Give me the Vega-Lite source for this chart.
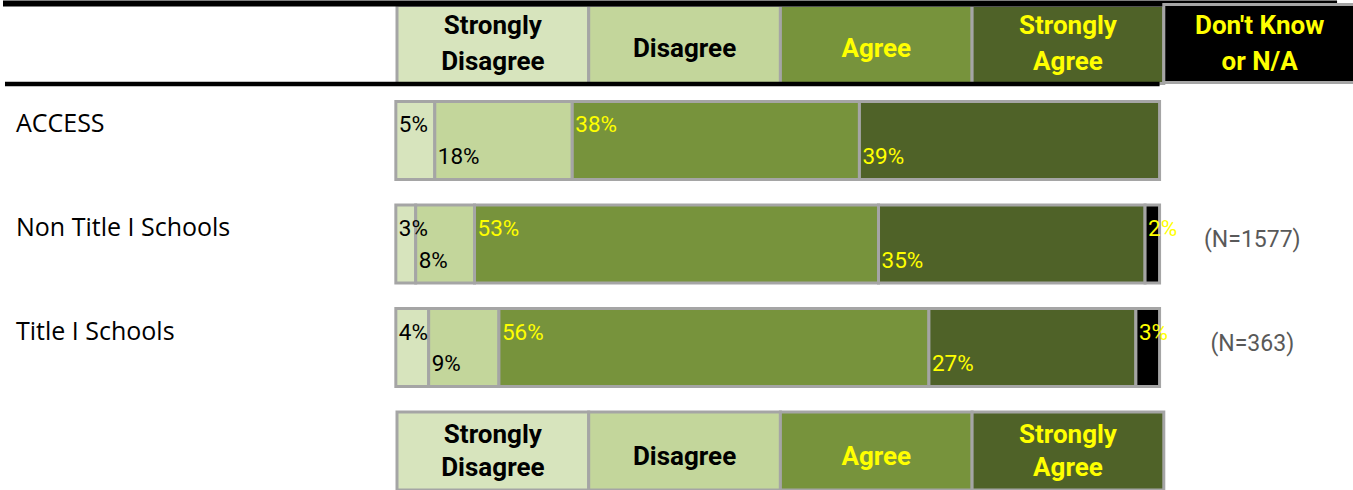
{
  "$schema": "https://vega.github.io/schema/vega-lite/v6.json",
  "width": 1353,
  "height": 490,
  "autosize": {"type": "fit", "contains": "padding"},
  "padding": 0,
  "background": "white",
  "config": {"view": {"stroke": null}},
  "datasets": {
    "bars": [
      {"row": "ACCESS", "cat": "Strongly Disagree", "k": 1, "value": 5.1, "label": "5%"},
      {"row": "ACCESS", "cat": "Disagree", "k": 2, "value": 18.0, "label": "18%"},
      {"row": "ACCESS", "cat": "Agree", "k": 3, "value": 37.6, "label": "38%"},
      {"row": "ACCESS", "cat": "Strongly Agree", "k": 4, "value": 39.3, "label": "39%"},
      {"row": "Non Title I Schools", "cat": "Strongly Disagree", "k": 1, "value": 2.6, "label": "3%"},
      {"row": "Non Title I Schools", "cat": "Disagree", "k": 2, "value": 7.7, "label": "8%"},
      {"row": "Non Title I Schools", "cat": "Agree", "k": 3, "value": 52.9, "label": "53%"},
      {"row": "Non Title I Schools", "cat": "Strongly Agree", "k": 4, "value": 34.9, "label": "35%"},
      {"row": "Non Title I Schools", "cat": "Don't Know or N/A", "k": 5, "value": 1.9, "label": "2%"},
      {"row": "Title I Schools", "cat": "Strongly Disagree", "k": 1, "value": 4.3, "label": "4%"},
      {"row": "Title I Schools", "cat": "Disagree", "k": 2, "value": 9.2, "label": "9%"},
      {"row": "Title I Schools", "cat": "Agree", "k": 3, "value": 56.3, "label": "56%"},
      {"row": "Title I Schools", "cat": "Strongly Agree", "k": 4, "value": 27.1, "label": "27%"},
      {"row": "Title I Schools", "cat": "Don't Know or N/A", "k": 5, "value": 3.1, "label": "3%"}
    ],
    "rows": [
      {"row": "ACCESS", "n": ""},
      {"row": "Non Title I Schools", "n": "(N=1577)"},
      {"row": "Title I Schools", "n": "(N=363)"}
    ],
    "cats": [
      {"cat": "Strongly Disagree", "head": "Strongly\nDisagree", "k": 1},
      {"cat": "Disagree", "head": "Disagree", "k": 2},
      {"cat": "Agree", "head": "Agree", "k": 3},
      {"cat": "Strongly Agree", "head": "Strongly\nAgree", "k": 4},
      {"cat": "Don't Know or N/A", "head": "Don't Know\nor N/A", "k": 5}
    ]
  },
  "layer": [
    {
      "data": {"name": "cats"},
      "transform": [{"filter": "datum.k < 5"}],
      "mark": {"type": "rect", "stroke": "#A5A5A5", "strokeWidth": 3, "yOffset": 7.5},
      "encoding": {
        "x": {"field": "cat", "type": "nominal", "axis": null, "scale": {"type": "band", "domain": ["Strongly Disagree", "Disagree", "Agree", "Strongly Agree", "Don't Know or N/A"], "range": [394, 1352.5], "paddingInner": 0, "paddingOuter": 0, "round": false}},
        "y": {"datum": "H", "type": "nominal", "axis": null, "scale": {"type": "band", "domain": ["H", "ACCESS", "Non Title I Schools", "Title I Schools", "F"], "range": [-2, 490], "paddingInner": 0.2464, "paddingOuter": 0, "round": false}},
        "color": {"field": "cat", "type": "nominal", "legend": null, "scale": {"domain": ["Strongly Disagree", "Disagree", "Agree", "Strongly Agree", "Don't Know or N/A"], "range": ["#D7E4BD", "#C3D69B", "#77933C", "#4F6228", "#000000"]}}
      }
    },
    {
      "data": {"values": [{}]},
      "layer": [
        {
          "mark": {"type": "rule", "color": "#000000", "strokeWidth": 6, "yOffset": -33.5},
          "encoding": {
            "x": {"datum": -51.436, "type": "quantitative", "axis": null, "scale": {"domain": [-51.436, 125.196], "nice": false, "zero": false}},
            "x2": {"datum": 123.24},
            "y": {"datum": "H", "type": "nominal", "axis": null, "scale": {"type": "band", "domain": ["H", "ACCESS", "Non Title I Schools", "Title I Schools", "F"], "range": [-2, 490], "paddingInner": 0.2464, "paddingOuter": 0, "round": false}}
          }
        },
        {
          "mark": {"type": "rule", "color": "#000000", "strokeWidth": 4.5, "yOffset": 47},
          "encoding": {
            "x": {"datum": -51.175, "type": "quantitative", "axis": null, "scale": {"domain": [-51.436, 125.196], "nice": false, "zero": false}},
            "x2": {"datum": 100},
            "y": {"datum": "H", "type": "nominal", "axis": null, "scale": {"type": "band", "domain": ["H", "ACCESS", "Non Title I Schools", "Title I Schools", "F"], "range": [-2, 490], "paddingInner": 0.2464, "paddingOuter": 0, "round": false}}
          }
        }
      ]
    },
    {
      "data": {"name": "cats"},
      "layer": [
        {
          "transform": [{"filter": "datum.k == 5"}],
          "mark": {"type": "rect", "stroke": "#A5A5A5", "strokeWidth": 3, "yOffset": 6.5},
          "encoding": {
            "x": {"field": "cat", "type": "nominal", "axis": null, "scale": {"type": "band", "domain": ["Strongly Disagree", "Disagree", "Agree", "Strongly Agree", "Don't Know or N/A"], "range": [394, 1352.5], "paddingInner": 0, "paddingOuter": 0, "round": false}},
            "y": {"datum": "H", "type": "nominal", "axis": null, "scale": {"type": "band", "domain": ["H", "ACCESS", "Non Title I Schools", "Title I Schools", "F"], "range": [-2, 490], "paddingInner": 0.2464, "paddingOuter": 0, "round": false}},
            "color": {"field": "cat", "type": "nominal", "legend": null, "scale": {"domain": ["Strongly Disagree", "Disagree", "Agree", "Strongly Agree", "Don't Know or N/A"], "range": ["#D7E4BD", "#C3D69B", "#77933C", "#4F6228", "#000000"]}}
          }
        },
        {
          "transform": [{"filter": "datum.k == 1 || datum.k >= 4"}],
          "mark": {"type": "text", "font": "Roboto", "fontSize": 26, "fontWeight": "bold", "lineBreak": "\n", "lineHeight": 36, "align": "center", "baseline": "middle", "dy": -11},
          "encoding": {
            "x": {"field": "cat", "type": "nominal", "axis": null, "scale": {"type": "band", "domain": ["Strongly Disagree", "Disagree", "Agree", "Strongly Agree", "Don't Know or N/A"], "range": [394, 1352.5], "paddingInner": 0, "paddingOuter": 0, "round": false}},
            "y": {"datum": "H", "type": "nominal", "axis": null, "scale": {"type": "band", "domain": ["H", "ACCESS", "Non Title I Schools", "Title I Schools", "F"], "range": [-2, 490], "paddingInner": 0.2464, "paddingOuter": 0, "round": false}},
            "text": {"field": "head"},
            "fill": {"field": "cat", "type": "nominal", "legend": null, "scale": {"domain": ["Strongly Disagree", "Disagree", "Agree", "Strongly Agree", "Don't Know or N/A"], "range": ["#000000", "#000000", "#FFFF00", "#FFFF00", "#FFFF00"]}}
          }
        },
        {
          "transform": [{"filter": "datum.k == 2 || datum.k == 3"}],
          "mark": {"type": "text", "font": "Roboto", "fontSize": 26, "fontWeight": "bold", "align": "center", "baseline": "middle", "dy": 12},
          "encoding": {
            "x": {"field": "cat", "type": "nominal", "axis": null, "scale": {"type": "band", "domain": ["Strongly Disagree", "Disagree", "Agree", "Strongly Agree", "Don't Know or N/A"], "range": [394, 1352.5], "paddingInner": 0, "paddingOuter": 0, "round": false}},
            "y": {"datum": "H", "type": "nominal", "axis": null, "scale": {"type": "band", "domain": ["H", "ACCESS", "Non Title I Schools", "Title I Schools", "F"], "range": [-2, 490], "paddingInner": 0.2464, "paddingOuter": 0, "round": false}},
            "text": {"field": "head"},
            "fill": {"field": "cat", "type": "nominal", "legend": null, "scale": {"domain": ["Strongly Disagree", "Disagree", "Agree", "Strongly Agree", "Don't Know or N/A"], "range": ["#000000", "#000000", "#FFFF00", "#FFFF00", "#FFFF00"]}}
          }
        },
        {
          "transform": [{"filter": "datum.k < 5"}],
          "mark": {"type": "rect", "stroke": "#A5A5A5", "strokeWidth": 3},
          "encoding": {
            "x": {"field": "cat", "type": "nominal", "axis": null, "scale": {"type": "band", "domain": ["Strongly Disagree", "Disagree", "Agree", "Strongly Agree", "Don't Know or N/A"], "range": [394, 1352.5], "paddingInner": 0, "paddingOuter": 0, "round": false}},
            "y": {"datum": "F", "type": "nominal", "axis": null, "scale": {"type": "band", "domain": ["H", "ACCESS", "Non Title I Schools", "Title I Schools", "F"], "range": [-2, 490], "paddingInner": 0.2464, "paddingOuter": 0, "round": false}},
            "color": {"field": "cat", "type": "nominal", "legend": null, "scale": {"domain": ["Strongly Disagree", "Disagree", "Agree", "Strongly Agree", "Don't Know or N/A"], "range": ["#D7E4BD", "#C3D69B", "#77933C", "#4F6228", "#000000"]}}
          }
        },
        {
          "transform": [{"filter": "datum.k == 1 || datum.k == 4"}],
          "mark": {"type": "text", "font": "Roboto", "fontSize": 26, "fontWeight": "bold", "lineBreak": "\n", "lineHeight": 33, "align": "center", "baseline": "middle", "dy": -16},
          "encoding": {
            "x": {"field": "cat", "type": "nominal", "axis": null, "scale": {"type": "band", "domain": ["Strongly Disagree", "Disagree", "Agree", "Strongly Agree", "Don't Know or N/A"], "range": [394, 1352.5], "paddingInner": 0, "paddingOuter": 0, "round": false}},
            "y": {"datum": "F", "type": "nominal", "axis": null, "scale": {"type": "band", "domain": ["H", "ACCESS", "Non Title I Schools", "Title I Schools", "F"], "range": [-2, 490], "paddingInner": 0.2464, "paddingOuter": 0, "round": false}},
            "text": {"field": "head"},
            "fill": {"field": "cat", "type": "nominal", "legend": null, "scale": {"domain": ["Strongly Disagree", "Disagree", "Agree", "Strongly Agree", "Don't Know or N/A"], "range": ["#000000", "#000000", "#FFFF00", "#FFFF00", "#FFFF00"]}}
          }
        },
        {
          "transform": [{"filter": "datum.k == 2 || datum.k == 3"}],
          "mark": {"type": "text", "font": "Roboto", "fontSize": 26, "fontWeight": "bold", "align": "center", "baseline": "middle", "dy": 6},
          "encoding": {
            "x": {"field": "cat", "type": "nominal", "axis": null, "scale": {"type": "band", "domain": ["Strongly Disagree", "Disagree", "Agree", "Strongly Agree", "Don't Know or N/A"], "range": [394, 1352.5], "paddingInner": 0, "paddingOuter": 0, "round": false}},
            "y": {"datum": "F", "type": "nominal", "axis": null, "scale": {"type": "band", "domain": ["H", "ACCESS", "Non Title I Schools", "Title I Schools", "F"], "range": [-2, 490], "paddingInner": 0.2464, "paddingOuter": 0, "round": false}},
            "text": {"field": "head"},
            "fill": {"field": "cat", "type": "nominal", "legend": null, "scale": {"domain": ["Strongly Disagree", "Disagree", "Agree", "Strongly Agree", "Don't Know or N/A"], "range": ["#000000", "#000000", "#FFFF00", "#FFFF00", "#FFFF00"]}}
          }
        }
      ]
    },
    {
      "data": {"name": "bars"},
      "transform": [{"stack": "value", "groupby": ["row"], "sort": [{"field": "k", "order": "ascending"}], "as": ["x0", "x1"]}],
      "layer": [
        {
          "mark": {"type": "rect", "stroke": "#A5A5A5", "strokeWidth": 3},
          "encoding": {
            "x": {"field": "x0", "type": "quantitative", "axis": null, "scale": {"domain": [-51.436, 125.196], "nice": false, "zero": false}},
            "x2": {"field": "x1"},
            "y": {"field": "row", "type": "nominal", "axis": null, "scale": {"type": "band", "domain": ["H", "ACCESS", "Non Title I Schools", "Title I Schools", "F"], "range": [-2, 490], "paddingInner": 0.2464, "paddingOuter": 0, "round": false}},
            "color": {"field": "cat", "type": "nominal", "legend": null, "scale": {"domain": ["Strongly Disagree", "Disagree", "Agree", "Strongly Agree", "Don't Know or N/A"], "range": ["#D7E4BD", "#C3D69B", "#77933C", "#4F6228", "#000000"]}}
          }
        },
        {
          "transform": [{"filter": "datum.k % 2 == 1"}],
          "mark": {"type": "text", "font": "Roboto", "fontSize": 22.5, "align": "left", "baseline": "middle", "dx": 3, "dy": -15},
          "encoding": {
            "x": {"field": "x0", "type": "quantitative", "axis": null, "scale": {"domain": [-51.436, 125.196], "nice": false, "zero": false}},
            "y": {"field": "row", "type": "nominal", "axis": null, "scale": {"type": "band", "domain": ["H", "ACCESS", "Non Title I Schools", "Title I Schools", "F"], "range": [-2, 490], "paddingInner": 0.2464, "paddingOuter": 0, "round": false}},
            "text": {"field": "label"},
            "fill": {"field": "cat", "type": "nominal", "legend": null, "scale": {"domain": ["Strongly Disagree", "Disagree", "Agree", "Strongly Agree", "Don't Know or N/A"], "range": ["#000000", "#000000", "#FFFF00", "#FFFF00", "#FFFF00"]}}
          }
        },
        {
          "transform": [{"filter": "datum.k % 2 == 0"}],
          "mark": {"type": "text", "font": "Roboto", "fontSize": 22.5, "align": "left", "baseline": "middle", "dx": 3, "dy": 16.5},
          "encoding": {
            "x": {"field": "x0", "type": "quantitative", "axis": null, "scale": {"domain": [-51.436, 125.196], "nice": false, "zero": false}},
            "y": {"field": "row", "type": "nominal", "axis": null, "scale": {"type": "band", "domain": ["H", "ACCESS", "Non Title I Schools", "Title I Schools", "F"], "range": [-2, 490], "paddingInner": 0.2464, "paddingOuter": 0, "round": false}},
            "text": {"field": "label"},
            "fill": {"field": "cat", "type": "nominal", "legend": null, "scale": {"domain": ["Strongly Disagree", "Disagree", "Agree", "Strongly Agree", "Don't Know or N/A"], "range": ["#000000", "#000000", "#FFFF00", "#FFFF00", "#FFFF00"]}}
          }
        }
      ]
    },
    {
      "data": {"name": "rows"},
      "layer": [
        {
          "mark": {"type": "text", "font": "Open Sans", "fontSize": 25, "align": "left", "baseline": "middle", "dy": -16, "color": "#000000"},
          "encoding": {
            "x": {"datum": -49.74, "type": "quantitative", "axis": null, "scale": {"domain": [-51.436, 125.196], "nice": false, "zero": false}},
            "y": {"field": "row", "type": "nominal", "axis": null, "scale": {"type": "band", "domain": ["H", "ACCESS", "Non Title I Schools", "Title I Schools", "F"], "range": [-2, 490], "paddingInner": 0.2464, "paddingOuter": 0, "round": false}},
            "text": {"field": "row"}
          }
        },
        {
          "transform": [{"filter": "datum.n != ''"}],
          "mark": {"type": "text", "font": "Roboto", "fontSize": 23, "align": "center", "baseline": "middle", "dy": -4, "color": "#595959"},
          "encoding": {
            "x": {"datum": 112.14, "type": "quantitative", "axis": null, "scale": {"domain": [-51.436, 125.196], "nice": false, "zero": false}},
            "y": {"field": "row", "type": "nominal", "axis": null, "scale": {"type": "band", "domain": ["H", "ACCESS", "Non Title I Schools", "Title I Schools", "F"], "range": [-2, 490], "paddingInner": 0.2464, "paddingOuter": 0, "round": false}},
            "text": {"field": "n"}
          }
        }
      ]
    }
  ],
  "resolve": {"scale": {"x": "independent"}}
}
